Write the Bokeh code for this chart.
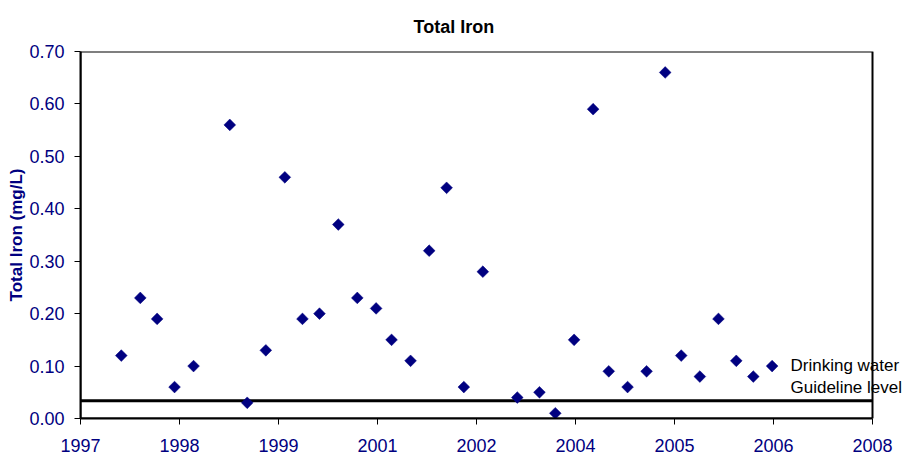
import datetime as dt
import numpy as np
from bokeh.plotting import figure
from bokeh.models import FixedTicker, NumeralTickFormatter, Label, Range1d, Title, BoxAnnotation
from bokeh.embed import file_html
from bokeh.resources import INLINE

# ---- data ----
SAMPLE_DATES = [
    "1997-10-07", "1998-01-11", "1998-04-06", "1998-07-03", "1998-10-07",
    "1999-04-08", "1999-07-05", "1999-10-07", "2000-01-11", "2000-04-09",
    "2000-07-04", "2000-10-07", "2001-01-11", "2001-04-16", "2001-07-03",
    "2001-10-07", "2002-01-09", "2002-04-07", "2002-07-03", "2002-10-07",
    "2003-03-30", "2003-07-20", "2003-10-08", "2004-01-11", "2004-04-16",
    "2004-07-04", "2004-10-07", "2005-01-11", "2005-04-15", "2005-07-05",
    "2005-10-07", "2006-01-09", "2006-04-09", "2006-07-04", "2006-10-07",
]
TOTAL_IRON = [
    0.12, 0.23, 0.19, 0.06, 0.10,
    0.56, 0.03, 0.13, 0.46, 0.19,
    0.20, 0.37, 0.23, 0.21, 0.15,
    0.11, 0.32, 0.44, 0.06, 0.28,
    0.04, 0.05, 0.01, 0.15, 0.59,
    0.09, 0.06, 0.09, 0.66, 0.12,
    0.08, 0.19, 0.11, 0.08, 0.10,
]
GUIDELINE = 0.034
AXIS_START = "1997-03-15"
TICK_STEP_DAYS = 500
X_TICK_LABELS = ["1997", "1998", "1999", "2001", "2002", "2004", "2005", "2006", "2008"]
Y_TICKS = [0.0, 0.1, 0.2, 0.3, 0.4, 0.5, 0.6, 0.7]
LEGEND_LINES = ["Drinking water", "Guideline level"]

NAVY = "#000080"
FONT = "Liberation Sans"

W, H = 906, 464
LEFT, BOTTOM, TOP = 80, 46, 51
PLOT_W = 792  # width of the chart's plot area (axis start to last tick)

def to_ms(d):
    return (d - dt.datetime(1970, 1, 1)).total_seconds() * 1000.0

start = dt.datetime.strptime(AXIS_START, "%Y-%m-%d")
tick_ms = [to_ms(start + dt.timedelta(days=TICK_STEP_DAYS * i)) for i in range(len(X_TICK_LABELS))]
xs = [dt.datetime.strptime(s, "%Y-%m-%d") for s in SAMPLE_DATES]

xa, xb = tick_ms[0], tick_ms[-1]
frame_w = W - LEFT
x_end = xa + (xb - xa) * frame_w / PLOT_W   # frame runs to the canvas edge so the note text is not clipped early
ya, yb = Y_TICKS[0], Y_TICKS[-1]

p = figure(width=W, height=H, x_axis_type="datetime",
           output_backend="svg", toolbar_location=None,
           x_range=Range1d(xa, x_end), y_range=Range1d(ya, yb),
           min_border_left=LEFT, min_border_right=0,
           min_border_top=TOP, min_border_bottom=BOTTOM)

p.title = Title(text="Total Iron", align="left", offset=333, standoff=29,
                text_font=FONT, text_font_size="18px", text_font_style="bold",
                text_color="black")

p.xgrid.visible = False
p.ygrid.visible = False
p.outline_line_color = None

# x axis
p.xaxis.ticker = FixedTicker(ticks=tick_ms)
p.xaxis.bounds = (xa, xb)
p.xaxis.major_label_overrides = {t: lab for t, lab in zip(tick_ms, X_TICK_LABELS)}
p.xaxis.minor_tick_line_color = None

# y axis
p.yaxis.ticker = FixedTicker(ticks=Y_TICKS)
p.yaxis.formatter = NumeralTickFormatter(format="0.00")
p.yaxis.minor_tick_line_color = None
p.yaxis.axis_label = "Total Iron (mg/L)"
p.yaxis.axis_label_text_font = FONT
p.yaxis.axis_label_text_font_size = "17px"
p.yaxis.axis_label_text_font_style = "bold"
p.yaxis.axis_label_text_color = NAVY
p.yaxis.axis_label_standoff = 0

for ax in (p.xaxis, p.yaxis):
    ax.axis_line_color = "black"
    ax.axis_line_width = 2
    ax.major_tick_line_color = "black"
    ax.major_tick_line_width = 1
    ax.major_tick_out = 6
    ax.major_tick_in = 0
    ax.major_label_text_font = FONT
    ax.major_label_text_font_size = "18px"
    ax.major_label_text_color = NAVY
p.yaxis.major_label_standoff = 10
p.xaxis.major_label_standoff = 14

# plot-area border limited to the chart's axis extent
p.add_layout(BoxAnnotation(left=xa, right=xb, bottom=ya, top=yb,
                           fill_color=None, fill_alpha=0,
                           line_color="black", line_alpha=1.0, line_width=2,
                           level="underlay"))

# guideline
p.line([xa, xb], [GUIDELINE, GUIDELINE], line_color="black", line_width=3)

# data points (diamonds)
p.scatter(xs, TOTAL_IRON, marker="square", angle=np.pi / 4, size=8.3,
          fill_color=NAVY, line_color=NAVY, line_width=0.5)

# guideline note text
for txt, yy in zip(LEGEND_LINES, (53, 31)):
    p.add_layout(Label(x=710, y=yy, x_units="screen", y_units="screen", text=txt,
                       text_font=FONT, text_font_size="17px", text_color="black",
                       text_baseline="middle", text_align="left"))

open("out.html", "w").write(file_html(p, INLINE))
